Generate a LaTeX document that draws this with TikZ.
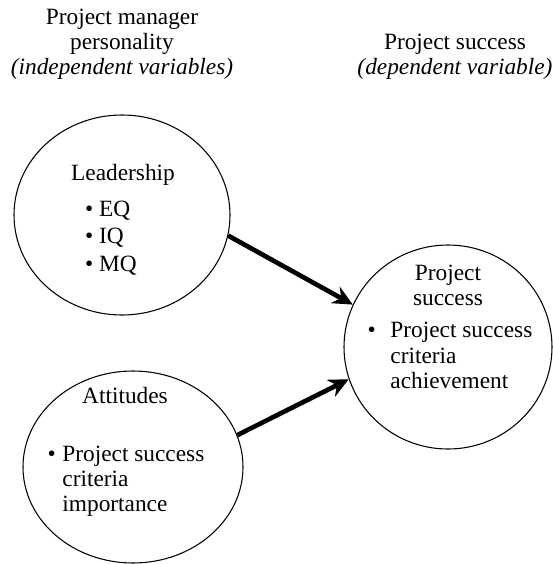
\documentclass[tikz,border=0pt]{standalone}
\usepackage{fontspec}
\setmainfont{Liberation Serif}
\usetikzlibrary{shapes.geometric,arrows.meta}

\begin{document}
\begin{tikzpicture}[x=0.75pt,y=0.75pt,yscale=-1,xscale=1,
  bubble/.style={draw,ellipse,line width=0.8pt,inner sep=0pt},
  txt/.style={inner sep=0.75pt,font=\fontsize{17.5}{18.75}\selectfont},
  link/.style={line width=3.5pt,-{Stealth[length=15pt,width=14pt,inset=5pt]}}]
\useasboundingbox (0,0) rectangle (553,564);

% Headings
\node[txt,align=center] (hdind) at (122,44) {Project manager\\personality\\\textit{(independent variables)}};
\node[txt,align=center] (hddep) at (455,57) {Project success\\\textit{(dependent variable)}};

%Shape: Ellipse [leadership]
\node[bubble,minimum width=162pt,minimum height=150pt] (lead) at (122,215) {};
%Shape: Ellipse [attitudes]
\node[bubble,minimum width=165pt,minimum height=144pt] (att) at (133,467) {};
%Shape: Ellipse [project success]
\node[bubble,minimum width=156pt,minimum height=153pt] (succ) at (448,347) {};

% Text Node
\node[txt] (leadlbl) at (123,175) {Leadership};
% Text Node
\node[txt,align=left] (leadlst) at (111,238) {\textbullet\ EQ\\[2pt]\textbullet\ IQ\\[2pt]\textbullet\ MQ};
% Text Node
\node[txt] (attlbl) at (125,396) {Attitudes};
% Text Node
\node[txt] (attlst) at (126,481) {\begin{tabular}{@{}l@{\hspace{5pt}}l@{}}\textbullet & Project success\\ & criteria\\ & importance\end{tabular}};
% Text Node
\node[txt,align=center] (succlbl) at (448,285) {Project\\success};
% Text Node
\node[txt] (succlst) at (450,358) {\begin{tabular}{@{}l@{\hspace{11pt}}l@{}}\textbullet & Project success\\[1pt] & criteria\\ & achievement\end{tabular}};

% Arrows
\draw[link] (lead.-11) -- (succ.156);
\draw[link] (att.17) -- (succ.-162);

\end{tikzpicture}
\end{document}
